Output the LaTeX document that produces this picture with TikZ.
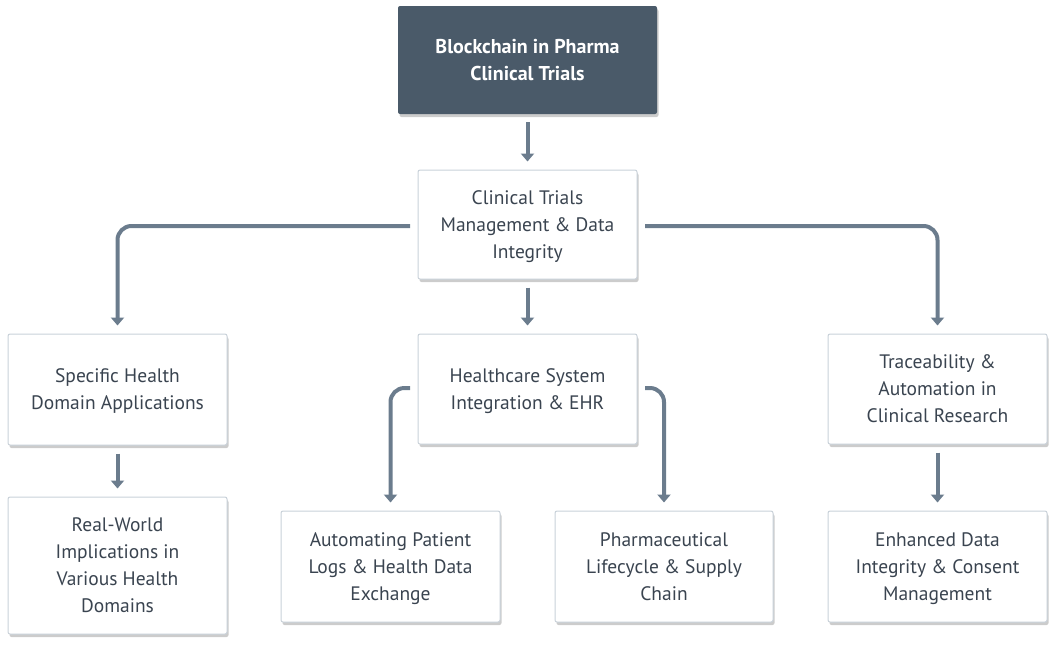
\documentclass[tikz,border=0pt]{standalone}
\usepackage{fontspec}
\setmainfont{PT Sans}
\usetikzlibrary{shadows,arrows.meta}
\definecolor{dark}{HTML}{4A5A69}
\definecolor{arr}{HTML}{6B7C8D}
\definecolor{bord}{HTML}{C9D1D9}
\definecolor{txt}{HTML}{3A4450}
\begin{document}
\begin{tikzpicture}[x=1pt,y=-1pt,
  box/.style={draw=bord, line width=1pt, fill=white, rounded corners=2pt,
    drop shadow={shadow xshift=1.5pt, shadow yshift=-3pt, fill=black!40, opacity=0.5},
    text=txt, font=\fontsize{19.5}{27}\selectfont, align=center, inner sep=0pt, text depth=0pt},
  topbox/.style={fill=dark, rounded corners=2pt,
    drop shadow={shadow xshift=1.5pt, shadow yshift=-3pt, fill=black!40, opacity=0.5},
    text=white, font=\fontsize{20}{27}\selectfont\bfseries, align=center, inner sep=0pt},
  conn/.style={draw=arr, line width=4pt, rounded corners=14pt,
    -{Triangle[width=13pt,length=8pt]}}]
\useasboundingbox (0,0) rectangle (1055,649);
\node[topbox, minimum width=259pt, minimum height=108pt] (top) at (527.5,60) {Blockchain in Pharma\\Clinical Trials};
\node[box, minimum width=219pt, minimum height=109pt] (mid) at (527.5,224.5) {Clinical Trials\\Management \& Data\\Integrity};
\node[box, minimum width=219pt, minimum height=111pt] (l2a) at (117.5,389.5) {Specific Health\\Domain Applications};
\node[box, minimum width=219pt, minimum height=110pt] (l2b) at (527.5,389) {Healthcare System\\Integration \& EHR};
\node[box, minimum width=219pt, minimum height=110pt] (l2c) at (937.5,389) {Traceability \&\\Automation in\\Clinical Research};
\node[box, minimum width=219pt, minimum height=137pt] (l3a) at (117.5,565.5) {Real-World\\Implications in\\Various Health\\Domains};
\node[box, minimum width=219pt, minimum height=111pt] (l3b) at (390.5,566.5) {Automating Patient\\Logs \& Health Data\\Exchange};
\node[box, minimum width=218pt, minimum height=111pt] (l3c) at (664,566.5) {Pharmaceutical\\Lifecycle \& Supply\\Chain};
\node[box, minimum width=219pt, minimum height=111pt] (l3d) at (937.5,566.5) {Enhanced Data\\Integrity \& Consent\\Management};
\coordinate (mL) at (410,226);
\coordinate (mR) at (645,226);
\coordinate (bL) at (410,388);
\coordinate (bR) at (645,388);
\draw[conn] ([yshift=-8pt]top.south) -- ([yshift=8pt]mid.north);
\draw[conn] (mL) -| ([yshift=8pt]l2a.north);
\draw[conn] (mR) -| ([yshift=8pt]l2c.north);
\draw[conn] ([yshift=-8pt]mid.south) -- ([yshift=8pt]l2b.north);
\draw[conn] (bL) -| ([yshift=8pt]l3b.north);
\draw[conn] (bR) -| ([yshift=8pt]l3c.north);
\draw[conn] ([yshift=-8pt]l2a.south) -- ([yshift=8pt]l3a.north);
\draw[conn] ([yshift=-8pt]l2c.south) -- ([yshift=8pt]l3d.north);
\end{tikzpicture}
\end{document}
